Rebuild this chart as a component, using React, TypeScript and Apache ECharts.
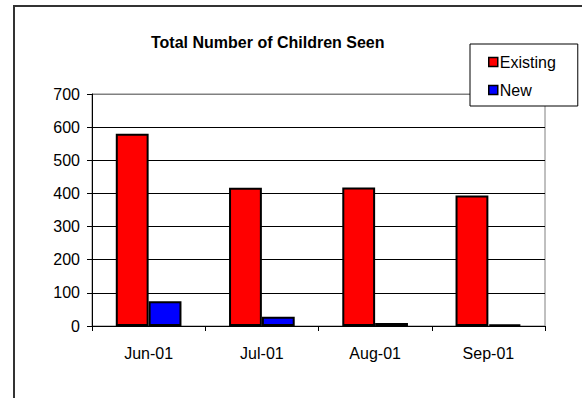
import React, { useEffect, useRef } from "react";
import * as echarts from "echarts";

const categories = ["Jun-01", "Jul-01", "Aug-01", "Sep-01"];
const existingValues = [580, 417, 418, 394];
const newValues = [75, 28, 9, 5];
const yTicks = [0, 100, 200, 300, 400, 500, 600, 700];

const FONT = '"Liberation Sans", Arial, sans-serif';

export default function App() {
  const ref = useRef<HTMLDivElement>(null);
  useEffect(() => {
    if (!ref.current) return;
    const chart = echarts.init(ref.current, undefined, { renderer: "svg" });
    chart.setOption({
      animation: false,
      backgroundColor: "#ffffff",
      textStyle: { fontFamily: FONT },
      title: {
        text: "Total Number of Children Seen",
        left: 151,
        top: 34,
        padding: 0,
        textStyle: { fontFamily: FONT, fontSize: 16, fontWeight: "bold", color: "#000" },
      },
      legend: {
        orient: "vertical",
        left: 470,
        top: 44,
        padding: [10, 22, 8, 18],
        itemGap: 12,
        itemWidth: 9,
        itemHeight: 9,
        icon: "rect",
        backgroundColor: "#fff",
        borderColor: "#000",
        borderWidth: 1,
        textStyle: { fontFamily: FONT, fontSize: 16, color: "#000", padding: [0, 0, 0, -3] },
        itemStyle: { borderColor: "#000", borderWidth: 1.5 },
        data: ["Existing", "New"],
      },
      grid: {
        left: 92,
        right: 37,
        top: 94,
        bottom: 72,
        show: true,
        borderColor: "#808080",
        borderWidth: 1,
        backgroundColor: "transparent",
      },
      xAxis: {
        type: "category",
        data: categories,
        boundaryGap: true,
        axisLine: { lineStyle: { color: "#000", width: 1 } },
        axisTick: { show: true, length: 5, alignWithLabel: false, lineStyle: { color: "#000" } },
        axisLabel: { fontFamily: FONT, fontSize: 16, color: "#000", margin: 19 },
      },
      yAxis: {
        type: "value",
        min: yTicks[0],
        max: yTicks[yTicks.length - 1],
        interval: 100,
        axisLine: { show: true, lineStyle: { color: "#000", width: 1 } },
        axisTick: { show: true, length: 5, lineStyle: { color: "#000" } },
        axisLabel: { fontFamily: FONT, fontSize: 16, color: "#000", margin: 12 },
        splitLine: {
          show: true,
          lineStyle: {
            color: ["#000", "#000", "#000", "#000", "#000", "#000", "#000", "#808080"],
            width: 1,
          },
        },
      },
      series: [
        {
          name: "Existing",
          type: "bar",
          data: existingValues,
          barGap: "0%",
          barCategoryGap: "42%",
          itemStyle: { color: "#ff0000", borderColor: "#000", borderWidth: 2 },
        },
        {
          name: "New",
          type: "bar",
          data: newValues,
          barGap: "0%",
          barCategoryGap: "42%",
          itemStyle: { color: "#0000ff", borderColor: "#000", borderWidth: 2 },
        },
      ],
      graphic: [
        {
          type: "rect",
          shape: { x: 14, y: 6, width: 620, height: 500 },
          style: { fill: "none", stroke: "#333", lineWidth: 2 },
          silent: true,
          z: 100,
        },
      ],
    });
    return () => chart.dispose();
  }, []);
  return (
    <div
      ref={ref}
      style={{ position: "absolute", left: 0, top: 0, width: 582, height: 398 }}
    />
  );
}
